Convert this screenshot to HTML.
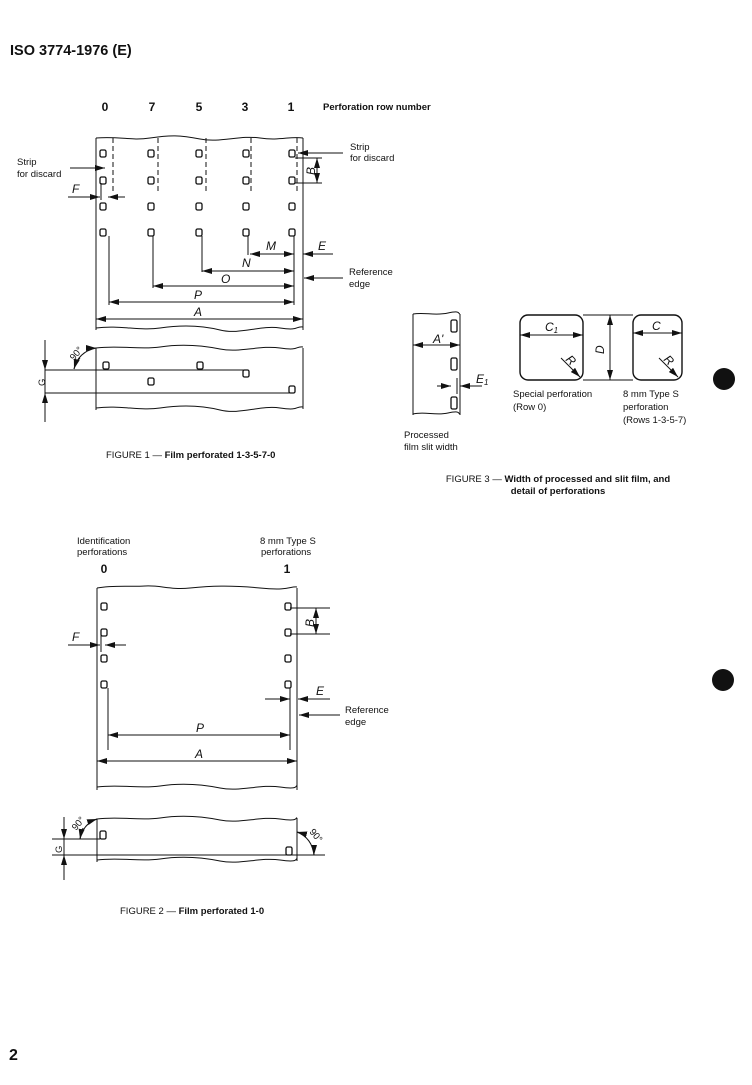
<!DOCTYPE html>
<html><head><meta charset="utf-8"><style>
html,body{margin:0;padding:0;background:#fff}
svg{display:block}
text{font-family:"Liberation Sans",sans-serif;fill:#111}
.s{font-size:9.5px}
.b{font-weight:bold}
.i{font-style:italic;font-size:12px}
</style></head><body>
<svg width="752" height="1085" viewBox="0 0 752 1085" xmlns="http://www.w3.org/2000/svg">
<defs>
<marker id="a" viewBox="0 0 10 6" refX="10" refY="3" markerWidth="10" markerHeight="6" markerUnits="userSpaceOnUse" orient="auto"><path d="M0,0 L10,3 L0,6 z" fill="#111"/></marker>
</defs>
<g stroke="#111" stroke-width="1" fill="none">
<path d="M96,138 V330 M303,138 V330"/>
<path d="M96,138 C120,136 130,141 150,138 S180,135 200,139 S240,135 260,138 S290,136 303,138"/>
<path d="M96,328 C120,325 140,331 160,328 S200,325 220,330 S260,325 280,328 S295,326 303,327"/>
<g stroke-dasharray="5,3">
<path d="M113,138 V193 M158,138 V191 M206,138 V191 M251,138 V191 M297,138 V192"/>
</g>
<g stroke-width="1.3">
<rect x="100" y="150" width="6" height="7" rx="1.5"/><rect x="148" y="150" width="6" height="7" rx="1.5"/><rect x="196" y="150" width="6" height="7" rx="1.5"/><rect x="243" y="150" width="6" height="7" rx="1.5"/><rect x="289" y="150" width="6" height="7" rx="1.5"/>
<rect x="100" y="177" width="6" height="7" rx="1.5"/><rect x="148" y="177" width="6" height="7" rx="1.5"/><rect x="196" y="177" width="6" height="7" rx="1.5"/><rect x="243" y="177" width="6" height="7" rx="1.5"/><rect x="289" y="177" width="6" height="7" rx="1.5"/>
<rect x="100" y="203" width="6" height="7" rx="1.5"/><rect x="148" y="203" width="6" height="7" rx="1.5"/><rect x="196" y="203" width="6" height="7" rx="1.5"/><rect x="243" y="203" width="6" height="7" rx="1.5"/><rect x="289" y="203" width="6" height="7" rx="1.5"/>
<rect x="100" y="229" width="6" height="7" rx="1.5"/><rect x="148" y="229" width="6" height="7" rx="1.5"/><rect x="196" y="229" width="6" height="7" rx="1.5"/><rect x="243" y="229" width="6" height="7" rx="1.5"/><rect x="289" y="229" width="6" height="7" rx="1.5"/>
</g>
<path d="M101,183 V200"/>
<path d="M70,168 H105" marker-end="url(#a)"/>
<path d="M343,153 H298" marker-end="url(#a)"/>
<path d="M295,158 H322 M295,183 H322"/>
<path d="M317,170 V158" marker-end="url(#a)"/><path d="M317,170 V183" marker-end="url(#a)"/>
<path d="M68,197 H100" marker-end="url(#a)"/><path d="M125,197 H108" marker-end="url(#a)"/>
<path d="M109,236 V305 M153,236 V288 M202,236 V272 M248,236 V255 M294,236 V305"/>
<path d="M271,254 H250" marker-end="url(#a)"/><path d="M271,254 H294" marker-end="url(#a)"/>
<path d="M333,254 H303" marker-end="url(#a)"/>
<path d="M248,271 H202" marker-end="url(#a)"/><path d="M248,271 H294" marker-end="url(#a)"/>
<path d="M224,286 H153" marker-end="url(#a)"/><path d="M224,286 H294" marker-end="url(#a)"/>
<path d="M200,302 H109" marker-end="url(#a)"/><path d="M200,302 H294" marker-end="url(#a)"/>
<path d="M200,319 H96" marker-end="url(#a)"/><path d="M200,319 H303" marker-end="url(#a)"/>
<path d="M343,278 H304" marker-end="url(#a)"/>
<path d="M96,348 V410 M303,348 V409"/>
<path d="M96,348 C120,345 140,350 160,347 S200,345 220,349 S260,345 280,348 S295,346 303,347"/>
<path d="M96,408 C120,405 140,411 160,408 S200,405 220,410 S260,405 280,408 S295,406 303,407"/>
<g stroke-width="1.3">
<rect x="103" y="362" width="6" height="7" rx="1.5"/><rect x="197" y="362" width="6" height="7" rx="1.5"/><rect x="243" y="370" width="6" height="7" rx="1.5"/><rect x="148" y="378" width="6" height="7" rx="1.5"/><rect x="289" y="386" width="6" height="7" rx="1.5"/>
</g>
<path d="M45,370 H245 M45,393 H292 M45,340 V422"/>
<path d="M45,350 V370" marker-end="url(#a)"/><path d="M45,412 V393" marker-end="url(#a)"/>
<path d="M74,369 Q78,352 96,348"/>
<path d="M80,358 Q76,362 74,369" marker-end="url(#a)"/><path d="M88,350 Q92,348 96,348" marker-end="url(#a)"/>
<path d="M413,314 V415 M460,314 V415"/>
<path d="M413,314 C425,312 435,316 448,313 S458,314 460,314"/>
<path d="M413,414 C425,411 435,416 448,413 S458,414 460,414"/>
<g stroke-width="1.3">
<rect x="451" y="320" width="6" height="12" rx="1.5"/><rect x="451" y="358" width="6" height="12" rx="1.5"/><rect x="451" y="397" width="6" height="12" rx="1.5"/>
</g>
<path d="M436,345 H413" marker-end="url(#a)"/><path d="M436,345 H460" marker-end="url(#a)"/>
<path d="M437,386 H451" marker-end="url(#a)"/><path d="M482,386 H460" marker-end="url(#a)"/>
<path d="M457,378 V394"/>
<rect x="520" y="315" width="63" height="65" rx="8" stroke-width="1.4"/>
<rect x="633" y="315" width="49" height="65" rx="8" stroke-width="1.4"/>
<path d="M583,315 H633 M583,380 H633"/>
<path d="M551,335 H520" marker-end="url(#a)"/><path d="M551,335 H583" marker-end="url(#a)"/>
<path d="M657,333 H633" marker-end="url(#a)"/><path d="M657,333 H682" marker-end="url(#a)"/>
<path d="M610,348 V315" marker-end="url(#a)"/><path d="M610,348 V380" marker-end="url(#a)"/>
<path d="M561,358 L580,377" marker-end="url(#a)"/>
<path d="M659,358 L678,377" marker-end="url(#a)"/>
<path d="M97,588 V790 M297,588 V790"/>
<path d="M97,588 C115,585 130,587 145,586 S170,590 190,588 S230,585 260,588 S290,586 297,587"/>
<path d="M97,787 C120,784 140,789 160,786 S200,784 220,788 S260,784 280,787 S295,785 297,786"/>
<g stroke-width="1.3">
<rect x="101" y="603" width="6" height="7" rx="1.5"/><rect x="101" y="629" width="6" height="7" rx="1.5"/><rect x="101" y="655" width="6" height="7" rx="1.5"/><rect x="101" y="681" width="6" height="7" rx="1.5"/>
<rect x="285" y="603" width="6" height="7" rx="1.5"/><rect x="285" y="629" width="6" height="7" rx="1.5"/><rect x="285" y="655" width="6" height="7" rx="1.5"/><rect x="285" y="681" width="6" height="7" rx="1.5"/>
</g>
<path d="M101,635 V652"/>
<path d="M290,608 H330 M290,634 H330"/>
<path d="M316,621 V608" marker-end="url(#a)"/><path d="M316,621 V634" marker-end="url(#a)"/>
<path d="M68,645 H100" marker-end="url(#a)"/><path d="M126,645 H105" marker-end="url(#a)"/>
<path d="M108,688 V750 M290,688 V750"/>
<path d="M265,699 H290" marker-end="url(#a)"/><path d="M330,699 H298" marker-end="url(#a)"/>
<path d="M340,715 H299" marker-end="url(#a)"/>
<path d="M200,735 H108" marker-end="url(#a)"/><path d="M200,735 H290" marker-end="url(#a)"/>
<path d="M200,761 H97" marker-end="url(#a)"/><path d="M200,761 H297" marker-end="url(#a)"/>
<path d="M97,819 V862 M297,818 V861"/>
<path d="M97,819 C120,816 140,821 160,818 S200,816 220,820 S260,816 280,819 S295,817 297,818"/>
<path d="M97,860 C120,857 140,862 160,859 S200,857 220,861 S260,857 280,860 S295,858 297,859"/>
<g stroke-width="1.3"><rect x="100" y="831" width="6" height="8" rx="1.5"/><rect x="286" y="847" width="6" height="8" rx="1.5"/></g>
<path d="M52,839 H100 M52,855 H325 M64,817 V880"/>
<path d="M64,825 V839" marker-end="url(#a)"/><path d="M64,870 V855" marker-end="url(#a)"/>
<path d="M80,839 Q83,824 97,819"/>
<path d="M83,828 Q81,833 80,839" marker-end="url(#a)"/><path d="M91,821 Q94,820 97,819" marker-end="url(#a)"/>
<path d="M297,832 Q312,838 314,855"/>
<path d="M305,834 Q301,833 297,832" marker-end="url(#a)"/><path d="M313,847 Q314,851 314,855" marker-end="url(#a)"/>
</g>
<circle cx="724" cy="379" r="11" fill="#111"/>
<circle cx="723" cy="680" r="11" fill="#111"/>
<text x="10" y="55" class="b" font-size="14.5">ISO 3774-1976 (E)</text>
<text x="9" y="1060" class="b" font-size="16">2</text>
<g class="b" font-size="12" text-anchor="middle">
<text x="105" y="111">0</text><text x="152" y="111">7</text><text x="199" y="111">5</text><text x="245" y="111">3</text><text x="291" y="111">1</text>
<text x="104" y="573">0</text><text x="287" y="573">1</text>
</g>
<text x="323" y="110" class="s b" font-size="9">Perforation row number</text>
<text x="17" y="165" class="s">Strip</text><text x="17" y="177" class="s">for discard</text>
<text x="350" y="150" class="s">Strip</text><text x="350" y="161" class="s">for discard</text>
<text x="349" y="275" class="s">Reference</text><text x="349" y="287" class="s">edge</text>
<text x="72" y="193" class="i">F</text>
<text x="266" y="250" class="i">M</text><text x="318" y="250" class="i">E</text>
<text x="242" y="267" class="i">N</text><text x="221" y="283" class="i">O</text>
<text x="194" y="299" class="i">P</text><text x="194" y="316" class="i">A</text>
<text class="i" transform="translate(315,175) rotate(-90)">B</text>
<text class="s" font-size="11" transform="translate(45,386) rotate(-90)">G</text>
<text class="s" font-size="10" transform="translate(74,361) rotate(-50)">90°</text>
<text x="106" y="458" class="s" font-size="9"><tspan>FIGURE 1 — </tspan><tspan class="b">Film perforated 1-3-5-7-0</tspan></text>
<text x="433" y="343" class="i">A'</text>
<text x="476" y="383" class="i">E<tspan font-size="8" dy="2">1</tspan></text>
<text x="545" y="331" class="i">C<tspan font-size="8" dy="2">1</tspan></text>
<text x="652" y="330" class="i">C</text>
<text class="i" transform="translate(604,354) rotate(-90)">D</text>
<text class="i" font-size="11" transform="translate(565,360) rotate(45)">R</text>
<text class="i" font-size="11" transform="translate(663,360) rotate(45)">R</text>
<text x="513" y="397" class="s">Special perforation</text><text x="513" y="410" class="s">(Row 0)</text>
<text x="623" y="397" class="s">8 mm Type S</text><text x="623" y="410" class="s">perforation</text><text x="623" y="423" class="s">(Rows 1-3-5-7)</text>
<text x="404" y="438" class="s">Processed</text><text x="404" y="450" class="s">film slit width</text>
<text x="558" y="482" class="s" font-size="9" text-anchor="middle"><tspan>FIGURE 3 — </tspan><tspan class="b">Width of processed and slit film, and</tspan></text>
<text x="558" y="494" class="s b" font-size="9" text-anchor="middle">detail of perforations</text>
<text x="77" y="544" class="s">Identification</text><text x="77" y="555" class="s">perforations</text>
<text x="260" y="544" class="s">8 mm Type S</text><text x="261" y="555" class="s">perforations</text>
<text x="72" y="641" class="i">F</text>
<text class="i" transform="translate(314,627) rotate(-90)">B</text>
<text x="316" y="695" class="i">E</text>
<text x="345" y="713" class="s">Reference</text><text x="345" y="725" class="s">edge</text>
<text x="196" y="732" class="i">P</text><text x="195" y="758" class="i">A</text>
<text class="s" font-size="11" transform="translate(62,853) rotate(-90)">G</text>
<text class="s" font-size="10" transform="translate(76,831) rotate(-50)">90°</text>
<text class="s" font-size="10" transform="translate(309,832) rotate(50)">90°</text>
<text x="120" y="914" class="s" font-size="9"><tspan>FIGURE 2 — </tspan><tspan class="b">Film perforated 1-0</tspan></text>
</svg>
</body></html>
